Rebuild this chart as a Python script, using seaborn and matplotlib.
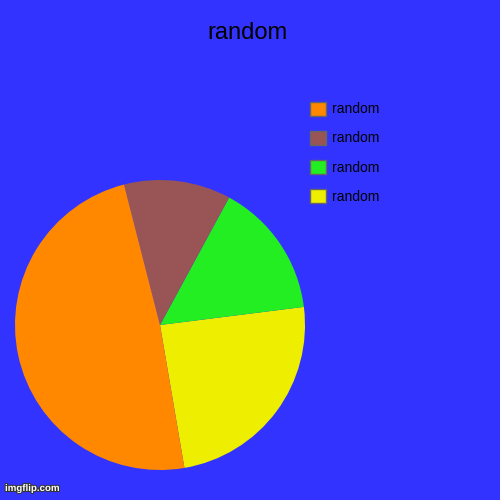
import matplotlib
matplotlib.use("Agg")
import matplotlib.pyplot as plt
import matplotlib.patheffects as pe
from matplotlib.patches import Patch
import seaborn as sns

labels = ["random", "random", "random", "random"]
values = [24.3, 15.1, 11.9, 48.7]
colors = ["#EEEE00", "#22EE22", "#995555", "#FF8800"]
title = "random"

sns.set_theme(style="white")
plt.rcParams['font.family'] = ['Liberation Sans', 'DejaVu Sans']

bg = "#3333FF"
fig = plt.figure(figsize=(5, 5), dpi=100, facecolor=bg)
ax = fig.add_axes([15/500, 30/500, 290/500, 290/500])
ax.set_facecolor(bg)
wedges, _ = ax.pie(values, colors=colors, startangle=-80.3, counterclock=True,
                   radius=1.0, wedgeprops=dict(linewidth=0))
ax.set_xlim(-1, 1)
ax.set_ylim(-1, 1)
ax.set_aspect("equal")
ax.axis("off")

for w in wedges:
    w.set_edgecolor("none")

fig.text(0.494, 1 - 33/500, title, ha="center", va="center", fontsize=17, color="black")

handles = [Patch(facecolor=c, edgecolor="#666666", linewidth=1) for c in colors][::-1]
leg = fig.legend(handles, labels[::-1], loc="upper left",
                 bbox_to_anchor=(300/500, 1 - 92/500), frameon=False,
                 fontsize=10, handlelength=1.15, handleheight=1.15,
                 handletextpad=0.45, labelspacing=1.05, borderpad=0.2)
for t in leg.get_texts():
    t.set_color("black")

fig.text(5/500, 7/500, "imgflip.com", ha="left", va="bottom", fontsize=7, color="white",
         fontweight="bold",
         path_effects=[pe.withStroke(linewidth=1.5, foreground="#333333")])

fig.savefig("out.png", dpi=100, facecolor=bg)
